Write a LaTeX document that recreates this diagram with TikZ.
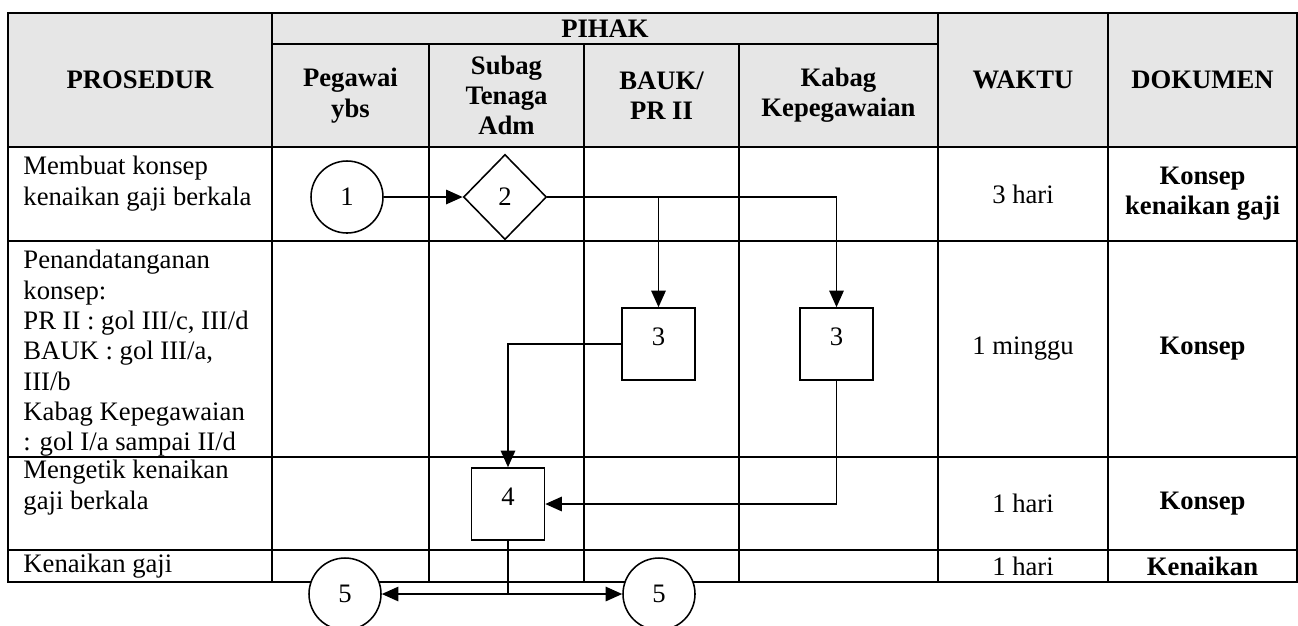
\documentclass[tikz,border=0pt]{standalone}
\usepackage{fontspec}
\setmainfont{Liberation Serif}
\usetikzlibrary{arrows.meta,shapes.geometric}
\definecolor{HeadGray}{RGB}{230,230,230}
\newcommand{\cellfont}{\fontsize{12pt}{13.65pt}\selectfont}
\tikzset{
  tableline/.style={draw=black,line width=0.8pt},
  headtext/.style={font=\cellfont\bfseries,align=center},
  doctext/.style={font=\cellfont\bfseries,align=center},
  proctext/.style={anchor=north west,inner sep=0pt,align=left},
  startend/.style={circle,draw=black,fill=white,line width=0.7pt,minimum size=32.4pt,inner sep=0pt},
  decision/.style={diamond,draw=black,fill=white,line width=0.7pt,minimum width=37.4pt,minimum height=38.3pt,inner sep=0pt},
  task/.style={rectangle,draw=black,fill=white,line width=0.7pt,minimum width=32.8pt,minimum height=32.4pt,inner sep=0pt,text depth=7pt},
  flow/.style={-{Triangle[length=7.5pt,width=6.5pt]},line width=0.8pt}
}
\begin{document}
\begin{tikzpicture}[x=0.45pt,y=-0.45pt,every node/.style={font=\cellfont}]
\useasboundingbox (0,0) rectangle (1298,625);
% header background
\fill[HeadGray] (8,13) rectangle (1297,147);
% table
\draw[tableline] (8,13) rectangle (1297,582);
\draw[tableline] (272,44) -- (938,44);
\draw[tableline] (8,147) -- (1297,147);\draw[tableline] (8,241) -- (1297,241);\draw[tableline] (8,457) -- (1297,457);\draw[tableline] (8,550) -- (1297,550);
\draw[tableline] (272,13) -- (272,582);\draw[tableline] (938,13) -- (938,582);\draw[tableline] (1108,13) -- (1108,582);
\draw[tableline] (429,44) -- (429,582);\draw[tableline] (584,44) -- (584,582);\draw[tableline] (739,44) -- (739,582);

% header texts
\node[headtext] (hProsedur) at (140,80) {PROSEDUR};
\node[headtext] (hPihak) at (605,28.5) {PIHAK};
\node[headtext] (hPegawai) at (350.5,95.5) {Pegawai\\ybs};
\node[headtext] (hSubag) at (506.5,95.5) {Subag\\Tenaga\\Adm};
\node[headtext] (hBauk) at (661.5,95.5) {BAUK/\\PR II};
\node[headtext] (hKabag) at (838.5,95.5) {Kabag\\Kepegawaian};
\node[headtext] (hWaktu) at (1023,80) {WAKTU};
\node[headtext] (hDokumen) at (1202.5,80) {DOKUMEN};

% prosedur
\node[proctext] (p1) at (23,156) {Membuat konsep\\kenaikan gaji berkala};
\node[proctext] (p2) at (23,250) {Penandatanganan\\konsep:\\PR II : gol III/c, III/d\\BAUK : gol III/a,\\III/b\\Kabag Kepegawaian\\: gol I/a sampai II/d};
\node[proctext] (p3) at (23,460) {Mengetik kenaikan\\gaji berkala};
\node[proctext] (p4) at (23,554) {Kenaikan gaji};

% waktu and dokumen
\node (w1) at (1023,194) {3 hari};
\node[doctext] (k1) at (1202.5,194) {Konsep\\kenaikan gaji};
\node (w2) at (1023,349) {1 minggu};
\node[doctext] (k2) at (1202.5,349) {Konsep};
\node (w3) at (1023,503.5) {1 hari};
\node[doctext] (k3) at (1202.5,503.5) {Konsep};
\node (w4) at (1023,566) {1 hari};
\node[doctext] (k4) at (1202.5,566) {Kenaikan};

% flow
\node[startend] (c1) at (347,197) {1};
\node[decision] (d2) at (505,197) {2};
\node[task] (b3a) at (658.5,344) {3};
\node[task] (b3b) at (836.5,344) {3};
\node[task] (b4) at (508,504) {4};
\node[startend] (c5a) at (345,594) {5};
\node[startend] (c5b) at (659,594) {5};

\draw[flow] (c1) -- (d2);
\draw[flow] (d2.east) -| (b3a.north);
\draw[flow] (d2.east) -| (b3b.north);
\draw[flow] (b3a.west) -| (b4.north);
\draw[flow] (b3b.south) |- (b4.east);
\draw[flow] (b4.south) |- (c5a.east);
\draw[flow] (b4.south) |- (c5b.west);
\end{tikzpicture}
\end{document}
